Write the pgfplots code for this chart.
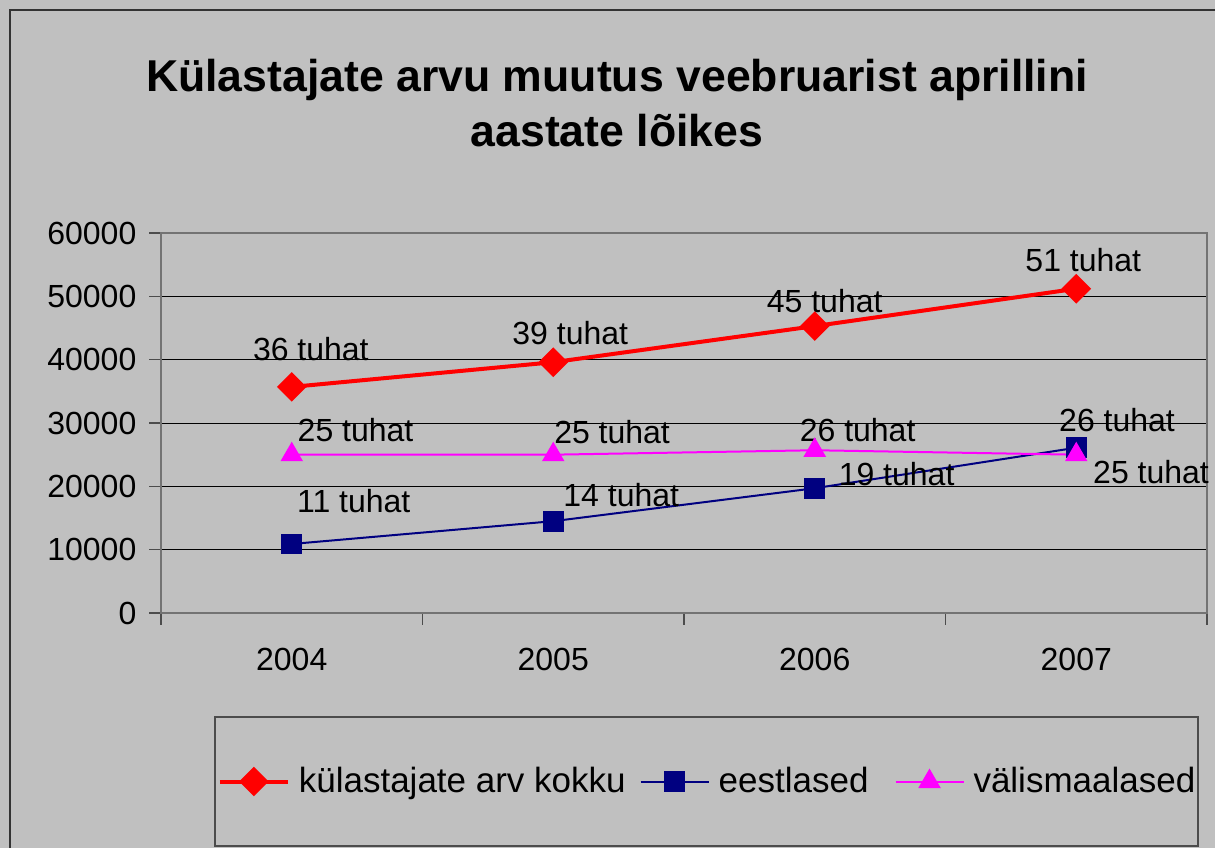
\documentclass[border=0pt]{standalone}
\usepackage{fontspec}
\setmainfont{Liberation Sans}
\usepackage{pgfplots}
\pgfplotsset{compat=1.18}
\definecolor{bg}{HTML}{C0C0C0}
\definecolor{navy}{HTML}{000080}
\definecolor{mag}{HTML}{FF00FF}
\begin{document}
\begin{tikzpicture}
% background and chart frame (1 px = 0.5 pt)
\useasboundingbox (0,0) rectangle (607.5pt,-424pt);
\fill[bg] (0,0) rectangle (607.5pt,-424pt);
\draw[black!80,line width=0.8pt] (5pt,-424pt) -- (5pt,-5pt) -- (607.5pt,-5pt);
\node[font=\fontsize{22.3}{27.5}\selectfont\bfseries,align=center] at (308.5pt,-51.5pt)
  {Külastajate arvu muutus veebruarist aprillini\\aastate lõikes};
\draw[black!70,line width=0.6pt] (107.5pt,-358.5pt) rectangle (599pt,-423pt);
\begin{axis}[at={(80.5pt,-306.5pt)},anchor=south west,scale only axis,
  width=523pt,height=190pt,clip=false,
  xmin=-0.5,xmax=3.5,ymin=0,ymax=60000,
  xtick={-0.5,0.5,1.5,2.5,3.5},xticklabels={,,,,,},
  extra x ticks={0,1,2,3},extra x tick labels={2004,2005,2006,2007},
  extra x tick style={major tick length=0pt},
  ytick={0,10000,...,60000},scaled y ticks=false,
  xtick pos=bottom,ytick pos=left,
  ymajorgrids,grid style={black,line width=0.5pt},
  tick align=outside,major tick length=5.8pt,
  tick style={black!70,line width=0.6pt},
  axis line style={black!55,line width=1pt},
  /pgf/number format/assume math mode=true,
  /pgf/number format/1000 sep={},
  tick label style={font=\fontsize{16}{19}\selectfont},
  yticklabel style={xshift=-3pt},
  xticklabel style={yshift=-14pt},
  legend style={at={(0.5235,-0.4434)},anchor=center,draw=none,fill=none,
    font=\fontsize{17.5}{20}\selectfont,
    /tikz/column 1/.style={column sep=2.5pt},
    /tikz/column 3/.style={column sep=2.5pt},
    /tikz/column 5/.style={column sep=2.5pt},
    /tikz/column 2/.style={column sep=5pt},
    /tikz/column 4/.style={column sep=11pt}},
  legend columns=3,
  legend image code/.code={\draw[mark repeat=2,mark phase=2]
    plot coordinates {(0pt,0pt) (17pt,0pt) (34pt,0pt)};}]
\addplot[red,line width=2pt,mark=diamond*,mark size=6pt,
  mark options={solid,xscale=1.333}]
  coordinates {(0,35700) (1,39600) (2,45300) (3,51200)};
\addlegendentry{külastajate arv kokku}
\addplot[navy,line width=1pt,mark=square*,mark size=4.7pt,mark options={solid}]
  coordinates {(0,10900) (1,14500) (2,19700) (3,26100)};
\addlegendentry{eestlased}
\addplot[mag,line width=1pt,mark=triangle*,mark size=5.5pt,mark options={solid}]
  coordinates {(0,25000) (1,25000) (2,25700) (3,25000)};
\addlegendentry{välismaalased}
\begin{scope}[every node/.style={font=\fontsize{16}{19}\selectfont}]
\node at (axis cs:0.073,41684) {36 tuhat};
\node at (axis cs:1.065,44211) {39 tuhat};
\node at (axis cs:2.038,49263) {45 tuhat};
\node at (axis cs:3.027,55737) {51 tuhat};
\node at (axis cs:0.244,28895) {25 tuhat};
\node at (axis cs:1.225,28579) {25 tuhat};
\node at (axis cs:2.164,28895) {26 tuhat};
\node at (axis cs:3.286,22263) {25 tuhat};
\node at (axis cs:0.237,17684) {11 tuhat};
\node at (axis cs:1.26,18632) {14 tuhat};
\node at (axis cs:2.313,21947) {19 tuhat};
\node at (axis cs:3.156,30474) {26 tuhat};
\end{scope}
\end{axis}
\end{tikzpicture}
\end{document}
